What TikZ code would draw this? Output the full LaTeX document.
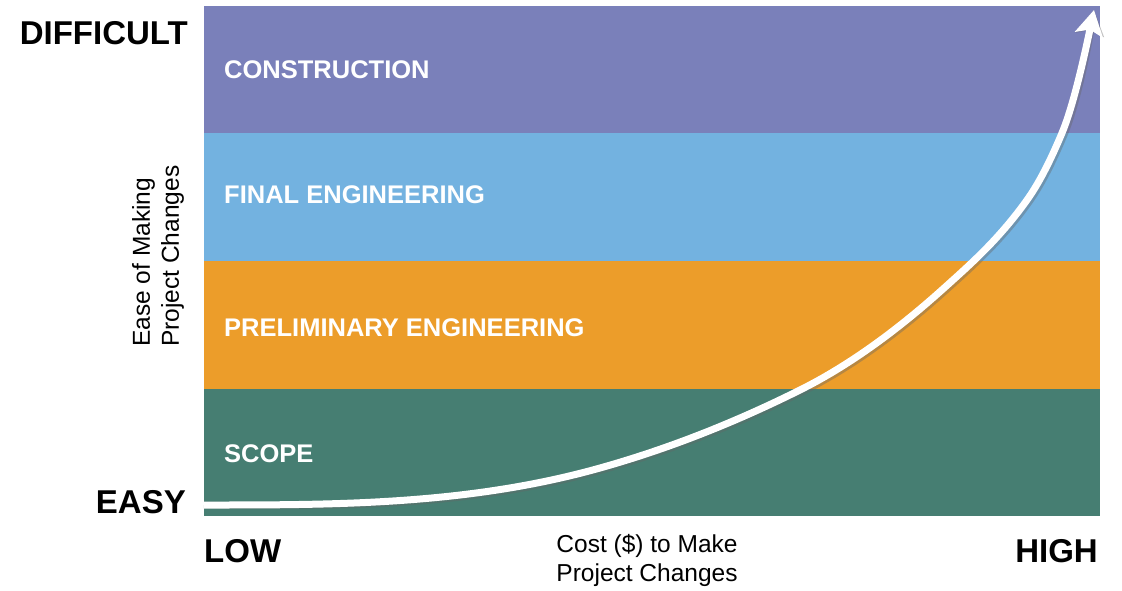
\documentclass[tikz,border=0pt]{standalone}
\usepackage{fontspec}
\setmainfont{Liberation Sans}
\usetikzlibrary{arrows.meta}
\definecolor{cConstr}{HTML}{7A80BA}
\definecolor{cFinal}{HTML}{73B2E0}
\definecolor{cPrelim}{HTML}{EC9D2A}
\definecolor{cScope}{HTML}{467E72}
\begin{document}
\begin{tikzpicture}[x=1pt,y=-1pt,
  bandlabel/.style={anchor=west,text=white,font=\fontsize{25.5}{28}\selectfont\bfseries,inner sep=0pt},
  biglabel/.style={font=\fontsize{33}{36}\selectfont\bfseries,inner sep=0pt},
  axistitle/.style={font=\fontsize{24.5}{29}\selectfont,inner sep=0pt},
  curvearrow/.style={line width=7pt,-{Stealth[length=25pt,width=28pt,inset=5pt]}}]
\useasboundingbox (0,0) rectangle (1122,590);
\fill[cConstr] (204,6) rectangle (1100,134);
\fill[cFinal] (204,133) rectangle (1100,262);
\fill[cPrelim] (204,261) rectangle (1100,390);
\fill[cScope] (204,389) rectangle (1100,516);
\node[bandlabel] (constr) at (224,70) {CONSTRUCTION};
\node[bandlabel] (final) at (224,195) {FINAL ENGINEERING};
\node[bandlabel] (prelim) at (224,328) {PRELIMINARY ENGINEERING};
\node[bandlabel] (scope) at (224,454) {SCOPE};
\node[biglabel,anchor=base east] (diff) at (188,44) {DIFFICULT};
\node[biglabel,anchor=base east] (easy) at (186,513) {EASY};
\node[biglabel,anchor=base west] (low) at (204,562) {LOW};
\node[biglabel,anchor=base east] (high) at (1098,562) {HIGH};
\node[axistitle,rotate=90,align=left,anchor=west] (ytitle) at (158,347) {Ease of Making\\Project Changes};
\node[axistitle,align=center] (xtitle) at (647,560) {Cost (\$) to Make\\Project Changes};
\coordinate (s) at (204,505);
\coordinate (e) at (1094,10);
\def\curvepath{(s) .. controls (336,505) and (468,505) .. (600,468)
  .. controls (666.7,449.3) and (733.3,423.3) .. (800,390)
  .. controls (847.7,366.2) and (895.3,331.9) .. (943,289)
  .. controls (971,263.8) and (999,239.2) .. (1027,200)
  .. controls (1038.7,183.7) and (1050.3,161) .. (1062,133)
  .. controls (1072.7,107.4) and (1083.3,61.2) .. (e)}
\draw[black!60,opacity=0.4,curvearrow,shift={(2,2)}] \curvepath;
\draw[white,curvearrow] \curvepath;
\end{tikzpicture}
\end{document}
